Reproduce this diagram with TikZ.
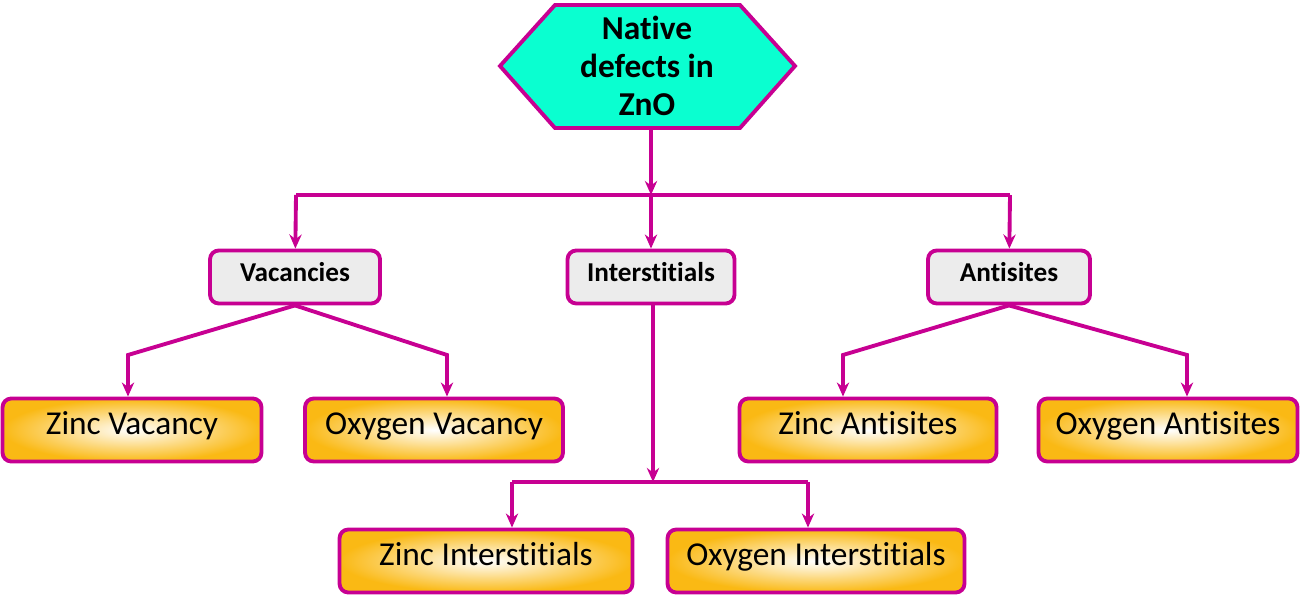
\documentclass[tikz,border=0pt]{standalone}
\usepackage{fontspec}
\setmainfont{Carlito}[Ligatures=NoCommon]
\usepackage{xcolor}
\usetikzlibrary{arrows.meta}
\definecolor{mag}{RGB}{199,0,146}
\definecolor{hexfill}{RGB}{10,255,208}
\definecolor{boxorange}{RGB}{250,185,20}
\begin{document}
\begin{tikzpicture}[x=0.02cm,y=-0.02cm,
  link/.style={draw=mag,line width=2.2pt,-{Stealth[length=8pt,width=7pt]}},
  cat/.style={rectangle,rounded corners=5pt,draw=mag,line width=2.2pt,fill=gray!15,
    minimum height=1.06cm,text height=0.75em,text depth=0.22em,
    font=\fontsize{15.5}{18}\selectfont\bfseries},
  leaf/.style={rectangle,rounded corners=5pt,draw=mag,line width=2.2pt,
    inner color=white,outer color=boxorange,minimum height=1.26cm,
    text height=0.75em,text depth=0.22em,font=\fontsize{19}{22}\selectfont}]
\useasboundingbox (0,0) rectangle (1301,597);
% top hexagon
\filldraw[draw=mag,fill=hexfill,line width=2.2pt]
  (500,66) -- (555,5) -- (740,5) -- (795,66) -- (740,128) -- (555,128) -- cycle;
\node[align=center,font=\fontsize{19}{21.5}\selectfont\bfseries] (0) at (647,66)
  {Native\\defects in\\ZnO};
% level 1
\node[cat,minimum width=3.4cm] (vac) at (295,277) {Vacancies};
\node[cat,minimum width=3.34cm] (int) at (651,277) {Interstitials};
\node[cat,minimum width=3.24cm] (anti) at (1009,277) {Antisites};
% level 2
\node[leaf,minimum width=5.18cm] (zv) at (132,430) {Zinc Vacancy};
\node[leaf,minimum width=5.16cm] (ov) at (434,430) {Oxygen Vacancy};
\node[leaf,minimum width=5.14cm] (za) at (868,430) {Zinc Antisites};
\node[leaf,minimum width=5.18cm] (oa) at (1168,430) {Oxygen Antisites};
\node[leaf,minimum width=5.86cm] (zi) at (486,561) {Zinc Interstitials};
\node[leaf,minimum width=5.94cm] (oi) at (816,561) {Oxygen Interstitials};
% connectors
\coordinate (hexb) at (651,128);
\coordinate (top) at (651,195);
\coordinate (topl) at (296,195);
\coordinate (topr) at (1010,195);
\coordinate (zvk) at (128,355);
\coordinate (ovk) at (447,355);
\coordinate (zak) at (843,355);
\coordinate (oak) at (1187,355);
\coordinate (mid) at (653,482);
\coordinate (midl) at (512,482);
\coordinate (midr) at (808,482);
\draw[link] (hexb) -- (top);
\draw[draw=mag,line width=2.2pt] (topl) -- (topr);
\draw[link] (topl) -- (vac);
\draw[link] (top) -- (int);
\draw[link] (topr) -- (anti);
\draw[link] (vac.south) -- (zvk) -- (zvk |- zv.north);
\draw[link] (vac.south) -- (ovk) -- (ovk |- ov.north);
\draw[link] (anti.south) -- (zak) -- (zak |- za.north);
\draw[link] (anti.south) -- (oak) -- (oak |- oa.north);
\draw[link] (mid |- int.south) -- (mid);
\draw[draw=mag,line width=2.2pt] (midl) -- (midr);
\draw[link] (midl) -- (midl |- zi.north);
\draw[link] (midr) -- (midr |- oi.north);
\end{tikzpicture}
\end{document}
